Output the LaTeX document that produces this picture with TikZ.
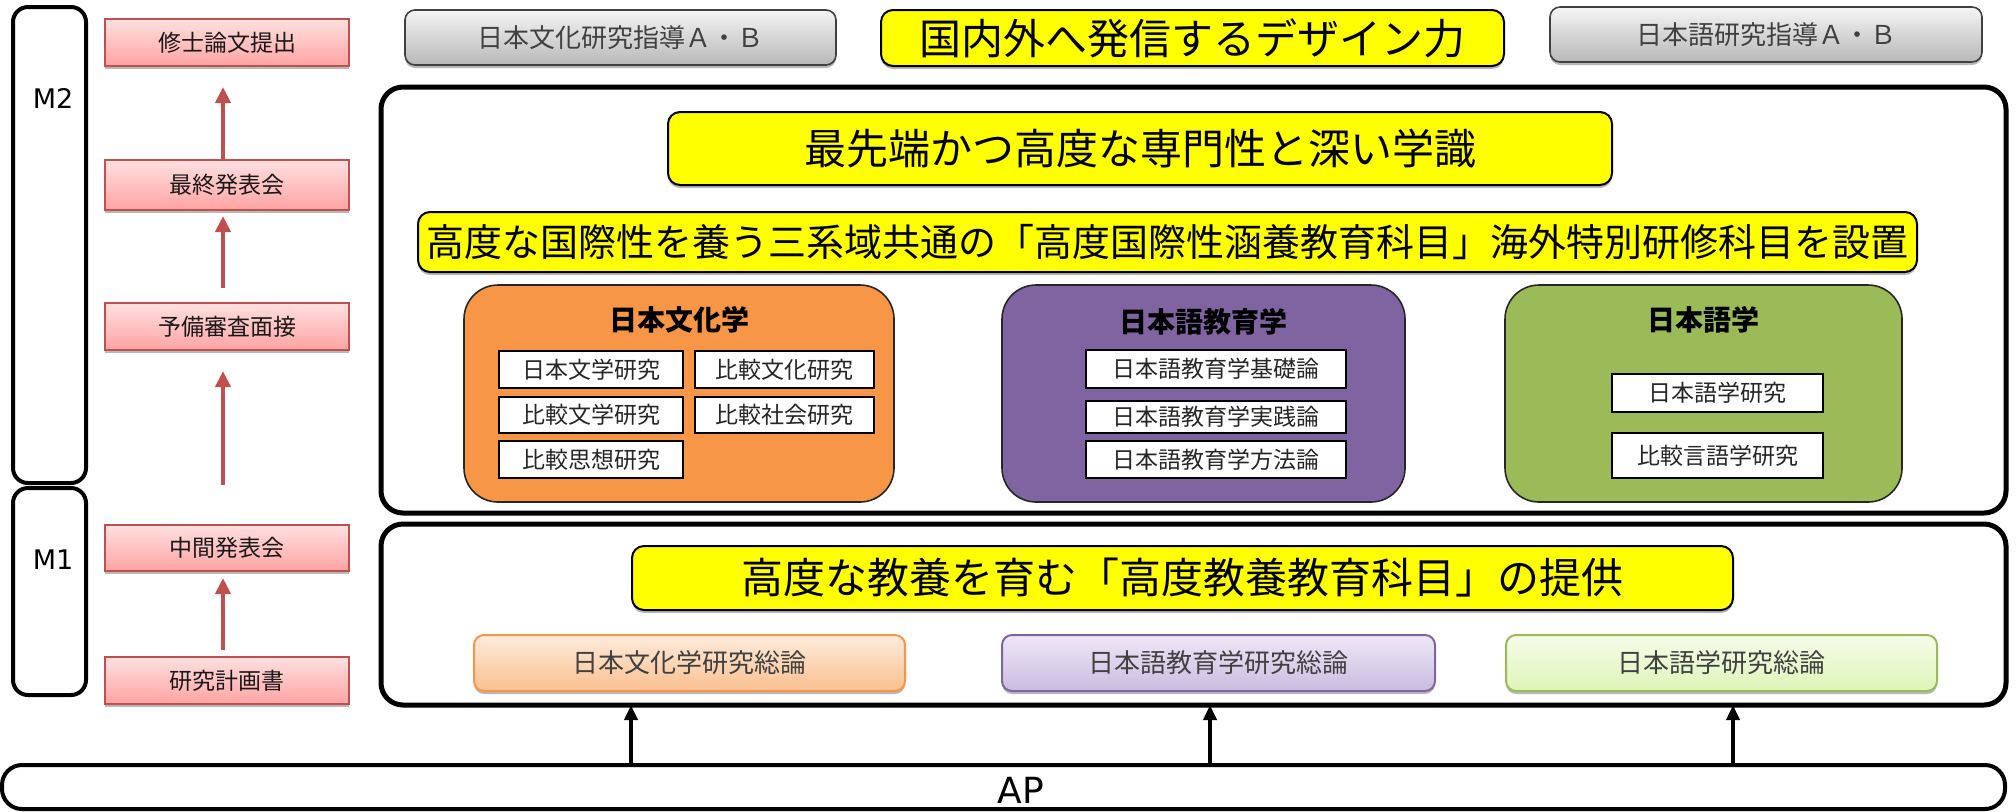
\documentclass[tikz,border=0pt]{standalone}
\usepackage{fontspec}
\newfontfamily\jp{Noto Sans CJK JP}
\newfontfamily\dv{DejaVu Sans}
\usetikzlibrary{arrows.meta,shadows}
\definecolor{redline}{HTML}{C0504D}
\definecolor{redtop}{HTML}{FFE0E0}
\definecolor{redbot}{HTML}{FFA3A3}
\definecolor{orangec}{HTML}{F79646}
\definecolor{purplec}{HTML}{8064A2}
\definecolor{greenc}{HTML}{9BBB59}
\definecolor{otop}{HTML}{FDEBDC}
\definecolor{obot}{HTML}{FAC08F}
\definecolor{ptop}{HTML}{EEE8F6}
\definecolor{pbot}{HTML}{C9BCE0}
\definecolor{gtop}{HTML}{F6FCEA}
\definecolor{gbot}{HTML}{DDF5B8}
\definecolor{yel}{HTML}{FFFF00}
\newcommand\bx[7]{\node[#6, minimum width={(#4-#2)*0.5pt}, minimum height={(#5-#3)*0.5pt}] (#1) at ({(#2+#4)/2},{(#3+#5)/2}) {#7};}
\tikzset{
  shad/.style={drop shadow={shadow xshift=0pt, shadow yshift=-1.5pt, fill=black!50, opacity=0.55}},
  mframe/.style={draw, line width=2pt, rounded corners=7.5pt},
  mlabel/.style={font=\dv\fontsize{13.5}{15}\selectfont},
  redbox/.style={draw=redline, line width=1pt, top color=redtop, bottom color=redbot, shad,
    font=\jp\fontsize{11.5}{13}\selectfont, text=black!90},
  graybox/.style={draw=black!75, line width=0.8pt, rounded corners=5pt, top color=black!4, bottom color=black!28, shad,
    font=\jp\fontsize{13}{15}\selectfont, text=black!75},
  yellowbox/.style={draw, line width=1pt, fill=yel, rounded corners=6pt, shad},
  bigfont/.style={font=\jp\fontsize{21}{24}\selectfont},
  bigframe/.style={draw, line width=2.5pt, rounded corners=11pt},
  catbox/.style={draw=black!85, line width=0.8pt, rounded corners=17pt},
  cattitle/.style={font=\jp\bfseries\fontsize{14}{16}\selectfont},
  whitebox/.style={draw, fill=white, line width=1pt, font=\jp\fontsize{11.5}{13}\selectfont, text=black!85},
  subbox/.style={line width=1pt, rounded corners=5pt, shad, font=\jp\fontsize{13}{15}\selectfont, text=black!75},
  redarrow/.style={draw=redline, line width=2pt, -{Triangle[width=7.5pt,length=8pt]}},
  blkarrow/.style={draw=black, line width=2pt, -{Triangle[width=6.5pt,length=7.5pt]}},
}
\begin{document}
\begin{tikzpicture}[x=0.5pt,y=-0.5pt, every node/.style={inner sep=0pt, outer sep=0pt, align=center}]
\useasboundingbox (0,0) rectangle (2016,811);

% left column
\bx{mtwo}{13}{7}{86}{483}{mframe}{}
\node[mlabel] (mtwol) at (53,98) {M2};
\bx{mone}{13}{488}{86}{695}{mframe}{}
\node[mlabel] (monel) at (53,560) {M1};

\bx{shushi}{105}{19}{349}{66}{redbox}{修士論文提出}
\bx{saishu}{105}{160}{349}{210}{redbox}{最終発表会}
\bx{yobi}{105}{303}{349}{350}{redbox}{予備審査面接}
\bx{chukan}{105}{525}{349}{571}{redbox}{中間発表会}
\bx{keikaku}{105}{657}{349}{704}{redbox}{研究計画書}

\draw[redarrow, shorten >=10.5pt] ([xshift=-2pt]saishu.north) -- ([xshift=-2pt]shushi.south);
\draw[redarrow, shorten <=7.5pt, shorten >=3pt] ([xshift=-2pt]yobi.north) -- ([xshift=-2pt]saishu.south);
\draw[redarrow, shorten <=20pt, shorten >=10.5pt] ([xshift=-2pt]chukan.north) -- ([xshift=-2pt]yobi.south);
\draw[redarrow, shorten <=3.5pt, shorten >=3.5pt] ([xshift=-2pt]keikaku.north) -- ([xshift=-2pt]chukan.south);

% top row
\bx{gone}{405}{10}{836}{65}{graybox}{日本文化研究指導Ａ・Ｂ}
\bx{ytop}{881}{10}{1504}{66}{yellowbox,bigfont}{国内外へ発信するデザイン力}
\bx{gtwo}{1550}{7}{1982}{62}{graybox}{日本語研究指導Ａ・Ｂ}

% upper frame
\bx{upper}{381}{87}{2006}{513}{bigframe}{}
\bx{ysen}{668}{112}{1612}{185}{yellowbox,bigfont}{最先端かつ高度な専門性と深い学識}
\bx{ykoku}{418}{212}{1917}{272}{yellowbox,font=\jp\fontsize{19}{22}\selectfont}{高度な国際性を養う三系域共通の「高度国際性涵養教育科目」海外特別研修科目を設置}

\bx{cult}{464}{285}{894}{502}{catbox,fill=orangec}{}
\node[cattitle] (cultt) at (679,320) {日本文化学};
\bx{c1}{499}{351}{683}{388}{whitebox}{日本文学研究}
\bx{c2}{695}{351}{874}{388}{whitebox}{比較文化研究}
\bx{c3}{499}{397}{683}{433}{whitebox}{比較文学研究}
\bx{c4}{695}{397}{874}{433}{whitebox}{比較社会研究}
\bx{c5}{499}{441}{683}{478}{whitebox}{比較思想研究}

\bx{edu}{1002}{285}{1405}{502}{catbox,fill=purplec}{}
\node[cattitle] (edut) at (1203,322) {日本語教育学};
\bx{e1}{1086}{350}{1346}{388}{whitebox}{日本語教育学基礎論}
\bx{e2}{1086}{401}{1346}{433}{whitebox}{日本語教育学実践論}
\bx{e3}{1086}{441}{1346}{478}{whitebox}{日本語教育学方法論}

\bx{ling}{1505}{285}{1902}{502}{catbox,fill=greenc}{}
\node[cattitle] (lingt) at (1703,320) {日本語学};
\bx{l1}{1612}{374}{1823}{412}{whitebox}{日本語学研究}
\bx{l2}{1612}{433}{1823}{478}{whitebox}{比較言語学研究}

% lower frame
\bx{lower}{381}{524}{2006}{705}{bigframe}{}
\bx{ykyo}{632}{546}{1733}{610}{yellowbox,bigfont}{高度な教養を育む「高度教養教育科目」の提供}
\bx{sone}{474}{635}{905}{691}{subbox,draw=orangec,top color=otop,bottom color=obot}{日本文化学研究総論}
\bx{stwo}{1002}{635}{1435}{691}{subbox,draw=purplec,top color=ptop,bottom color=pbot}{日本語教育学研究総論}
\bx{sthree}{1506}{635}{1937}{691}{subbox,draw=greenc,top color=gtop,bottom color=gbot}{日本語学研究総論}

% AP
\bx{ap}{2}{765}{2005}{809}{draw,line width=2pt,rounded corners=10pt}{}
\node[font=\dv\fontsize{18}{20}\selectfont, yshift=-1.5pt] (aptext) at (1021,787) {AP};
\coordinate (a1) at (631,765);
\coordinate (a2) at (1210,765);
\coordinate (a3) at (1733,765);
\draw[blkarrow] (a1) -- (a1 |- lower.south);
\draw[blkarrow] (a2) -- (a2 |- lower.south);
\draw[blkarrow] (a3) -- (a3 |- lower.south);
\end{tikzpicture}
\end{document}
